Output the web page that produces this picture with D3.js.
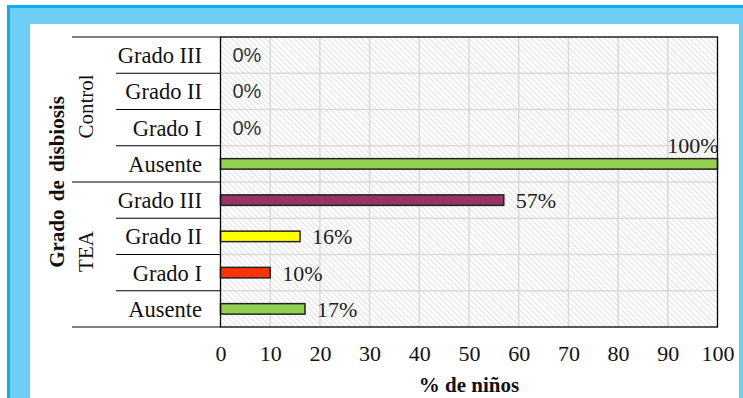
<!DOCTYPE html>
<html>
<head>
<meta charset="utf-8">
<script src="https://cdn.jsdelivr.net/npm/d3@7/dist/d3.min.js"></script>
<style>
  html, body { margin: 0; padding: 0; background: #fff; }
  svg { display: block; }
</style>
</head>
<body>
<div id="chart"></div>
<script>
// data
const groups = ['Control', 'TEA'];
const grades = ['Grado III', 'Grado II', 'Grado I', 'Ausente'];
const controlValues = [0, 0, 0, 100];
const teaValues = [57, 16, 10, 17];
const gradeColors = ['#993366', '#ffff00', '#ff3300', '#92d050'];
const xTicks = [0, 10, 20, 30, 40, 50, 60, 70, 80, 90, 100];

const width = 743, height = 398;
const plot = { left: 220.5, right: 717.5, top: 37, bottom: 327 };
const serif = '"Liberation Serif", "Times New Roman", serif';
const sans = '"Liberation Sans", Arial, sans-serif';

const rows = [];
groups.forEach((g, gi) => {
  const vals = gi === 0 ? controlValues : teaValues;
  grades.forEach((gr, i) => {
    rows.push({ key: g + '|' + gr, group: g, grade: gr, value: vals[i], color: gradeColors[i] });
  });
});

const svg = d3.select('#chart').append('svg')
  .attr('width', width)
  .attr('height', height);

// blue frame
svg.append('rect').attr('x', 7).attr('y', 5).attr('width', width - 7).attr('height', height).attr('fill', '#00b0f0');
svg.append('rect').attr('x', 10).attr('y', 8).attr('width', width - 10).attr('height', height).attr('fill', '#6dcff6');
svg.append('rect').attr('x', 30).attr('y', 24).attr('width', 709).attr('height', height).attr('fill', '#fff');

// hatch
const defs = svg.append('defs');
const pat = defs.append('pattern')
  .attr('id', 'hatch')
  .attr('patternUnits', 'userSpaceOnUse')
  .attr('width', 4).attr('height', 4)
  .attr('patternTransform', 'rotate(-45)');
pat.append('rect').attr('width', 4).attr('height', 4).attr('fill', '#fff');
pat.append('line').attr('x1', 0).attr('y1', 0).attr('x2', 0).attr('y2', 4)
  .attr('stroke', '#cfcfcf').attr('stroke-width', 1.3);

const x = d3.scaleLinear().domain([0, 100]).range([plot.left, plot.right]);
const y = d3.scaleBand().domain(rows.map(d => d.key)).range([plot.top, plot.bottom]).padding(0);

svg.append('rect')
  .attr('x', plot.left).attr('y', plot.top)
  .attr('width', plot.right - plot.left).attr('height', plot.bottom - plot.top)
  .attr('fill', 'url(#hatch)');

// grid
svg.append('g').selectAll('line')
  .data(xTicks.slice(1, -1))
  .enter().append('line')
  .attr('x1', d => x(d)).attr('x2', d => x(d))
  .attr('y1', plot.top).attr('y2', plot.bottom)
  .attr('stroke', '#d9d9d9').attr('stroke-width', 1.5);

svg.append('g').selectAll('line')
  .data(rows.slice(1))
  .enter().append('line')
  .attr('x1', plot.left).attr('x2', plot.right)
  .attr('y1', d => y(d.key)).attr('y2', d => y(d.key))
  .attr('stroke', '#d9d9d9').attr('stroke-width', 1.5);

// bars
const barH = 10.5;
svg.append('g').selectAll('rect')
  .data(rows.filter(d => d.value > 0))
  .enter().append('rect')
  .attr('x', x(0))
  .attr('y', d => y(d.key) + y.bandwidth() / 2 - barH / 2)
  .attr('width', d => x(d.value) - x(0))
  .attr('height', barH)
  .attr('fill', d => d.color)
  .attr('stroke', '#222')
  .attr('stroke-width', 1.5);

// plot border
svg.append('rect')
  .attr('x', plot.left).attr('y', plot.top)
  .attr('width', plot.right - plot.left).attr('height', plot.bottom - plot.top)
  .attr('fill', 'none').attr('stroke', '#000').attr('stroke-width', 1.3);

// value labels
const labels = svg.append('g');
rows.forEach(d => {
  const cy = y(d.key) + y.bandwidth() / 2;
  const t = labels.append('text').text(d.value + '%').attr('fill', '#222');
  if (d.value === 0) {
    t.attr('x', x(0) + 12).attr('y', cy + 7)
      .style('font-family', sans).style('font-size', '20px').attr('fill', '#333');
  } else if (d.value === 100) {
    t.attr('x', x(100) + 1).attr('y', cy - 11).attr('text-anchor', 'end')
      .style('font-family', serif).style('font-size', '22px');
  } else {
    t.attr('x', x(d.value) + 12).attr('y', cy + 8)
      .style('font-family', serif).style('font-size', '22px');
  }
});

// category labels and separators
const cat = svg.append('g').style('font-family', serif).style('font-size', '22.5px');
cat.selectAll('text')
  .data(rows)
  .enter().append('text')
  .attr('x', 202)
  .attr('y', d => y(d.key) + y.bandwidth() / 2 + 8)
  .attr('text-anchor', 'end')
  .attr('fill', '#111')
  .text(d => d.grade);

rows.forEach((d, i) => {
  const isGroupStart = i % grades.length === 0;
  svg.append('line')
    .attr('x1', isGroupStart ? 72 : 116).attr('x2', plot.left)
    .attr('y1', y(d.key)).attr('y2', y(d.key))
    .attr('stroke', '#000').attr('stroke-width', 1.2);
});
svg.append('line')
  .attr('x1', 72).attr('x2', plot.left)
  .attr('y1', plot.bottom).attr('y2', plot.bottom)
  .attr('stroke', '#000').attr('stroke-width', 1.2);

// group labels
groups.forEach(g => {
  const first = y(g + '|' + grades[0]);
  const last = y(g + '|' + grades[grades.length - 1]) + y.bandwidth();
  svg.append('text')
    .attr('transform', `translate(93,${(first + last) / 2 - 3}) rotate(-90)`)
    .attr('text-anchor', 'middle')
    .style('font-family', serif).style('font-size', '21px')
    .attr('fill', '#111')
    .text(g);
});

svg.append('text')
  .attr('transform', `translate(64,${(plot.top + plot.bottom) / 2}) rotate(-90)`)
  .attr('text-anchor', 'middle')
  .style('font-family', serif).style('font-size', '21px').style('font-weight', 'bold')
  .style('word-spacing', '3px')
  .attr('fill', '#111')
  .text('Grado de disbiosis');

// x axis
const xAxis = svg.append('g')
  .attr('transform', `translate(0,${plot.bottom})`)
  .call(d3.axisBottom(x).tickValues(xTicks).tickSize(0).tickPadding(18));
xAxis.select('.domain').remove();
xAxis.selectAll('text')
  .style('font-family', serif).style('font-size', '22px').attr('fill', '#111');

svg.append('text')
  .attr('x', (plot.left + plot.right) / 2)
  .attr('y', 392)
  .attr('text-anchor', 'middle')
  .style('font-family', serif).style('font-size', '21px').style('font-weight', 'bold')
  .attr('fill', '#111')
  .text('% de niños');
</script>
</body>
</html>
